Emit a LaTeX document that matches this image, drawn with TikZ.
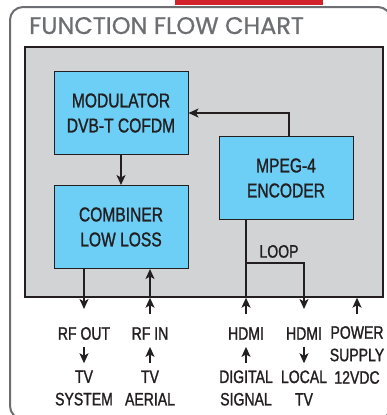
\documentclass[tikz,border=0pt]{standalone}
\usepackage{fontspec}
\setmainfont{Liberation Sans}
\newfontfamily\condfont[FakeStretch=0.78,FakeBold=1.2]{Liberation Sans}
\newfontfamily\titlefont[FakeBold=0.6]{Poppins}
\usetikzlibrary{
    arrows.meta,
    positioning,
    calc
}
\definecolor{framegray}{HTML}{6D6E71}
\definecolor{panelgray}{HTML}{D1D3D4}
\definecolor{boxcyan}{HTML}{6DCFF6}
\definecolor{inkblack}{HTML}{231F20}
\definecolor{tabred}{HTML}{D2232A}

\begin{document}
\begin{tikzpicture}[x=1pt,y=-1pt,
  fbox/.style={draw=inkblack, fill=boxcyan, line width=1pt, minimum width=134,
               minimum height=83, align=center, inner sep=0pt, text=inkblack,
               font=\condfont\fontsize{20}{25}\selectfont},
  lbl/.style={font=\condfont\fontsize{18}{22.5}\selectfont, align=center,
              inner sep=1pt, text=inkblack},
  arr/.style={-{Stealth[length=10pt,width=9pt,inset=2.5pt]}, line width=1.4pt, draw=inkblack},
  wire/.style={line width=1.4pt, draw=inkblack}]
  \useasboundingbox (0,0) rectangle (387,415);
  \clip (0,0) rectangle (387,415);
  \fill[white] (0,0) rectangle (387,415);
  % frame and title
  \fill[tabred] (175,-2) rectangle (323,5);
  \draw[framegray, line width=2pt, rounded corners=13pt, fill=white] (10,7) rectangle (391,419);
  \node[anchor=base west, inner sep=0pt, text=framegray,
        font=\titlefont\fontsize{24}{24}\selectfont] (title) at (29,34) {FUNCTION FLOW CHART};
  \node[draw=inkblack, fill=panelgray, line width=1.4pt, minimum width=358,
        minimum height=250, inner sep=0pt] (panel) at (204,172) {};
  % blocks
  \node[fbox] (mod)  at (121,113) {MODULATOR\\DVB-T COFDM};
  \node[fbox] (comb) at (121,227) {COMBINER\\LOW LOSS};
  \node[fbox] (enc)  at (286,178) {MPEG-4\\ENCODER};
  % connectors
  \coordinate (plug) at (0,309);
  \coordinate (jack) at (0,314);
  \coordinate (loop) at (0,263);
  \foreach \nm/\xx/\txt in {rfout/84/RF OUT,rfin/150/RF IN,hdmiin/246/HDMI,hdmiout/304/HDMI}
     {\node[lbl] (\nm) at (\xx,333.5) {\txt};}
  \node[lbl] (power) at (357,355) {POWER\\SUPPLY\\12VDC};
  \foreach \nm/\xx/\txt in {tvsys/84/{TV\\SYSTEM},tvaer/150/{TV\\AERIAL},
                            digsig/246/{DIGITAL\\SIGNAL},loctv/304/{LOCAL\\TV}}
     {\node[lbl] (\nm) at (\xx,388) {\txt};}
  \node[lbl, anchor=south] (looptxt) at (279,259) {LOOP};
  \draw[arr] ([xshift=3pt]enc.north) |- (mod.east);
  \draw[arr] (mod) -- (comb);
  \draw[arr] (rfout |- comb.south) -- (rfout |- plug);
  \draw[arr] (rfin |- jack) -- (rfin |- panel.south);
  \draw[arr] (rfin |- panel.south) -- (rfin |- comb.south);
  \draw[arr] (hdmiin |- jack) -- (hdmiin |- panel.south);
  \draw[wire] (hdmiin |- panel.south) -- (hdmiin |- enc.south);
  \draw[arr] (hdmiin |- loop) -| (hdmiout |- plug);
  \draw[arr] (power |- jack) -- (power |- panel.south);
  \draw[arr, shorten <=6pt, shorten >=6pt] (rfout.south) -- (tvsys.north);
  \draw[arr, shorten <=6pt, shorten >=6pt] (tvaer.north) -- (rfin.south);
  \draw[arr, shorten <=6pt, shorten >=6pt] (digsig.north) -- (hdmiin.south);
  \draw[arr, shorten <=6pt, shorten >=6pt] (hdmiout.south) -- (loctv.north);
\end{tikzpicture}
\end{document}
